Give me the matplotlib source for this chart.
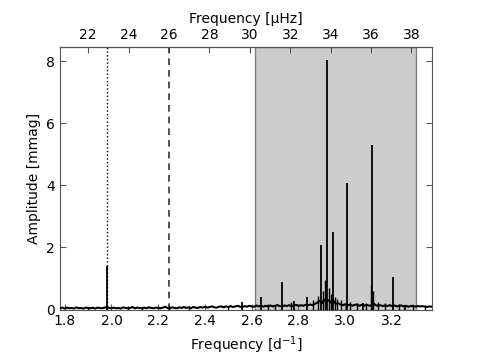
import numpy as np
import matplotlib
matplotlib.use("Agg")
import matplotlib.pyplot as plt

# Noise floor (frequency in d^-1, amplitude in mmag), sampled every 0.01 d^-1
noise_start = 1.78
noise_step = 0.01
noise_amp = [
    0.04, 0.06, 0.03, 0.06, 0.04, 0.05, 0.03, 0.07, 0.04, 0.05,   # 1.78-1.87
    0.03, 0.06, 0.05, 0.04, 0.06, 0.03, 0.06, 0.05, 0.04, 0.06,   # 1.88-1.97
    0.08, 0.05, 0.04, 0.06, 0.04, 0.05, 0.03, 0.07, 0.05, 0.04,   # 1.98-2.07
    0.05, 0.08, 0.04, 0.06, 0.05, 0.04, 0.06, 0.04, 0.07, 0.05,   # 2.08-2.17
    0.04, 0.06, 0.05, 0.04, 0.06, 0.09, 0.05, 0.04, 0.07, 0.05,   # 2.18-2.27
    0.04, 0.07, 0.05, 0.08, 0.05, 0.07, 0.04, 0.08, 0.06, 0.05,   # 2.28-2.37
    0.08, 0.06, 0.09, 0.06, 0.08, 0.10, 0.07, 0.06, 0.09, 0.10,   # 2.38-2.47
    0.07, 0.10, 0.08, 0.11, 0.08, 0.10, 0.12, 0.09, 0.08, 0.11,   # 2.48-2.57
    0.09, 0.12, 0.10, 0.09, 0.13, 0.10, 0.12, 0.09, 0.12, 0.10,   # 2.58-2.67
    0.13, 0.10, 0.12, 0.14, 0.11, 0.10, 0.13, 0.11, 0.14, 0.11,   # 2.68-2.77
    0.13, 0.15, 0.11, 0.14, 0.12, 0.15, 0.13, 0.16, 0.14, 0.18,   # 2.78-2.87
    0.22, 0.28, 0.20, 0.32, 0.24, 0.30, 0.22, 0.27, 0.18, 0.20,   # 2.88-2.97
    0.16, 0.14, 0.17, 0.13, 0.16, 0.12, 0.15, 0.16, 0.12, 0.15,   # 2.98-3.07
    0.12, 0.15, 0.13, 0.12, 0.20, 0.14, 0.12, 0.14, 0.11, 0.13,   # 3.08-3.17
    0.11, 0.14, 0.11, 0.13, 0.10, 0.12, 0.13, 0.10, 0.12, 0.09,   # 3.18-3.27
    0.11, 0.12, 0.09, 0.11, 0.10, 0.11, 0.09, 0.08, 0.10, 0.09,   # 3.28-3.37
]

# Pulsation peaks
peak_freq = [1.979, 2.557, 2.639, 2.729, 2.781, 2.836, 2.897, 2.921, 2.947,
             3.006, 3.074, 3.113, 3.203, 3.256]
peak_amp = [1.40, 0.25, 0.41, 0.88, 0.29, 0.40, 2.07, 8.02, 2.49,
            4.06, 0.22, 5.29, 1.05, 0.15]

# Minor noise spikes
minor_freq = [1.90, 2.07, 2.13, 2.245, 2.33, 2.50, 2.67, 2.70, 2.77, 2.86,
              2.885, 2.905, 2.915, 2.93, 2.94, 2.955, 2.965, 2.98, 3.02, 3.05,
              3.09, 3.108, 3.118, 3.14, 3.17, 3.23, 3.29, 3.34]
minor_amp = [0.08, 0.10, 0.09, 0.15, 0.10, 0.12, 0.18, 0.15, 0.25, 0.30,
             0.45, 0.60, 0.95, 0.70, 0.50, 0.40, 0.35, 0.30, 0.25, 0.22,
             0.20, 0.80, 0.60, 0.25, 0.20, 0.18, 0.15, 0.14]

# Markers
dotted_freq = 1.979
dashed_freq = 2.247
shade_range = (2.614, 3.304)

x_lim = (1.78, 3.371)
y_lim = (0.0, 8.45)
bottom_ticks = [1.8, 2.0, 2.2, 2.4, 2.6, 2.8, 3.0, 3.2]
top_ticks = [22, 24, 26, 28, 30, 32, 34, 36, 38]
y_ticks = [0, 2, 4, 6, 8]

D2UHZ = 1e6 / 86400.0

plt.rcParams['font.family'] = ['DejaVu Sans']
fig = plt.figure(figsize=(4.8, 3.62), dpi=100)
ax = fig.add_axes([0.125, 0.145, 0.775, 0.725])

noise_freq = noise_start + noise_step * np.arange(len(noise_amp))
ax.axvspan(*shade_range, facecolor='#cccccc', edgecolor='#808080', lw=1.0, zorder=0)
ax.plot(noise_freq, noise_amp, color='black', lw=1.5, zorder=3)
ax.vlines(minor_freq, 0, minor_amp, color='black', lw=1.0, zorder=3)
ax.vlines(peak_freq, 0, peak_amp, color='black', lw=1.3, zorder=3)
ax.axvline(dotted_freq, color='black', ls=':', lw=1.0, zorder=2)
ax.axvline(dashed_freq, color='#333333', ls=(0, (4, 3)), lw=1.2, zorder=2)

ax.set_xlim(*x_lim)
ax.set_ylim(*y_lim)
ax.set_xticks(bottom_ticks)
ax.set_xticklabels([f"{t:.1f}" for t in bottom_ticks])
ax.set_yticks(y_ticks)
ax.set_xlabel(r'Frequency [d$^{-1}$]', fontsize=10)
ax.set_ylabel('Amplitude [mmag]', fontsize=10)
ax.tick_params(direction='in', top=False, right=True, labelsize=10, length=4,
               color='#555555')
for s in ax.spines.values():
    s.set_color('#555555')

sec = ax.secondary_xaxis('top', functions=(lambda d: d * D2UHZ, lambda u: u / D2UHZ))
sec.set_xticks(top_ticks)
sec.set_xlabel('Frequency [μHz]', fontsize=10)
sec.tick_params(direction='in', labelsize=10, length=4, color='#555555')

fig.savefig('out.png', dpi=100)
